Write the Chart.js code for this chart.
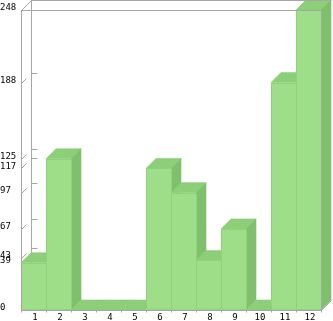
<!DOCTYPE html>
<html><head><meta charset="utf-8">
<style>html,body{margin:0;padding:0;background:#fff}canvas{display:block}</style>
<script src="https://cdn.jsdelivr.net/npm/chart.js@4"></script>
</head><body><canvas id="c" width="333" height="321" style="width:333px;height:321px"></canvas>
<script>
const categories = ['1','2','3','4','5','6','7','8','9','10','11','12'];
const values = [39,125,0,0,0,117,97,41,67,0,188,248];
const yTicks = [0,39,43,67,97,117,125,188,248];
const DEPTH = 10;
const GRID = '#a6a6a6', FRONT = '#9ede88', TOP = '#8ccf78', SIDE = '#7fc06c', EDGE = '#8fd27a';
const FONT = { family: 'DejaVu Sans Mono', size: 9 };

function edges(a) {
  return { L: Math.round(a.left) + .5, R: Math.round(a.right) + .5, T: Math.round(a.top) + .5, B: Math.round(a.bottom) + .5 };
}

const wall = {
  id: 'wall',
  beforeDatasetsDraw(chart) {
    const {ctx, chartArea: a, scales: {y}} = chart;
    const {L, R, T, B} = edges(a);
    ctx.save();
    ctx.strokeStyle = GRID; ctx.lineWidth = 1;
    ctx.beginPath();
    ctx.moveTo(L + DEPTH, T - DEPTH); ctx.lineTo(L + DEPTH, B - DEPTH);
    yTicks.forEach(v => {
      const p = Math.round(y.getPixelForValue(v)) + .5;
      ctx.moveTo(L, p); ctx.lineTo(L + 5, p - 5);
      ctx.moveTo(L + DEPTH, p - DEPTH); ctx.lineTo(L + DEPTH + 6, p - DEPTH);
    });
    ctx.stroke();
    ctx.restore();
  }
};

const bars3d = {
  id: 'bars3d',
  afterDatasetsDraw(chart) {
    const {ctx, chartArea: a, scales: {x}} = chart;
    const {L, R, T, B} = edges(a);
    const meta = chart.getDatasetMeta(0);
    ctx.save();
    ctx.lineWidth = 0.6; ctx.lineJoin = 'round';
    meta.data.forEach((el) => {
      const l = el.x - el.width / 2, r = el.x + el.width / 2, t = el.y, b = el.base;
      ctx.fillStyle = TOP; ctx.strokeStyle = TOP;
      ctx.beginPath(); ctx.moveTo(l, t); ctx.lineTo(l + DEPTH, t - DEPTH); ctx.lineTo(r + DEPTH, t - DEPTH); ctx.lineTo(r, t); ctx.closePath(); ctx.fill(); ctx.stroke();
      if (b - t > 0.5) {
        ctx.fillStyle = SIDE; ctx.strokeStyle = SIDE;
        ctx.beginPath(); ctx.moveTo(r, t); ctx.lineTo(r + DEPTH, t - DEPTH); ctx.lineTo(r + DEPTH, b - DEPTH); ctx.lineTo(r, b); ctx.closePath(); ctx.fill(); ctx.stroke();
      }
    });
    meta.data.forEach((el) => {
      const l = el.x - el.width / 2, r = el.x + el.width / 2, t = el.y, b = el.base;
      if (b - t > 0.5) {
        ctx.fillStyle = FRONT;
        ctx.fillRect(l, t, r - l, b - t);
        ctx.strokeStyle = EDGE; ctx.lineWidth = 1;
        ctx.strokeRect(Math.round(l) + .5, Math.round(t) + .5, r - l, b - t - 1);
      }
    });
    ctx.strokeStyle = GRID; ctx.lineWidth = 1;
    ctx.beginPath();
    ctx.moveTo(L, B); ctx.lineTo(L, T); ctx.lineTo(R, T); ctx.lineTo(R, B); ctx.lineTo(L, B);
    ctx.moveTo(L, T); ctx.lineTo(L + DEPTH, T - DEPTH); ctx.lineTo(R + DEPTH, T - DEPTH);
    ctx.moveTo(R, B); ctx.lineTo(R + DEPTH, B - DEPTH);
    categories.forEach((c, i) => {
      const p = Math.round(x.getPixelForValue(i) - 12.5) + .5;
      ctx.moveTo(p, B); ctx.lineTo(p, B + 2);
    });
    ctx.moveTo(R, B); ctx.lineTo(R, B + 2);
    ctx.stroke();
    ctx.restore();
  }
};

new Chart(document.getElementById('c'), {
  type: 'bar',
  data: { labels: categories, datasets: [{ data: values, backgroundColor: 'rgba(0,0,0,0)', borderWidth: 0, categoryPercentage: 1, barPercentage: 1 }] },
  options: {
    responsive: false, animation: false, devicePixelRatio: 1,
    layout: { padding: { top: 10, right: 12, left: 0, bottom: 0 } },
    plugins: { legend: { display: false }, tooltip: { enabled: false } },
    scales: {
      x: { offset: true, grid: { display: false, drawTicks: false }, border: { display: false },
        ticks: { color: '#000', font: FONT, padding: 2, labelOffset: 1.5, maxRotation: 0, autoSkip: false },
        afterFit(s) { s.height = 11; } },
      y: { min: 0, max: 248, grid: { display: false, drawTicks: false }, border: { display: false },
        afterBuildTicks(s) { s.ticks = yTicks.map(v => ({ value: v })); },
        ticks: { color: '#000', font: FONT, crossAlign: 'far', padding: 0, labelOffset: -2, autoSkip: false, callback: v => String(v) },
        afterFit(s) { s.width = 21; } }
    }
  },
  plugins: [wall, bars3d]
});
</script></body></html>
